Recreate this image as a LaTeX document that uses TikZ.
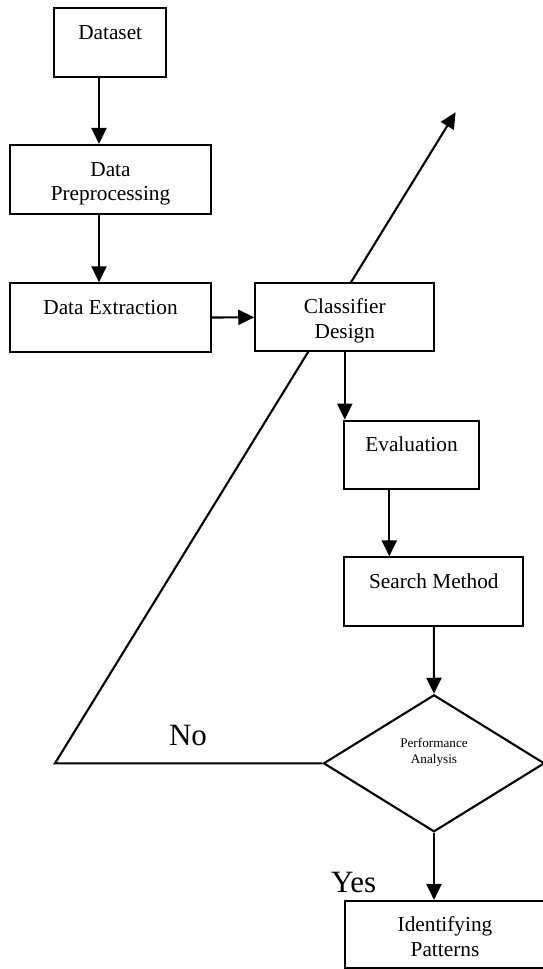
\documentclass[tikz,border=0pt]{standalone}
\usepackage{fontspec}
\setmainfont{Liberation Serif}
\usetikzlibrary{shapes.geometric,arrows.meta,backgrounds}
\newcommand{\topfix}[1]{\rule{0pt}{#1}}
\begin{document}
\begin{tikzpicture}[x=1pt,y=-1pt,
  box/.style={draw,line width=2.1pt,fill=white,rectangle,inner sep=0pt,align=center,
    font=\fontsize{21.3}{24.5}\selectfont},
  decision/.style={draw,line width=2.1pt,fill=white,diamond,inner sep=0pt},
  arr/.style={line width=2.1pt,-{Triangle[length=16pt,width=15pt]}},
  lbl/.style={font=\fontsize{31}{36}\selectfont},
  small/.style={font=\fontsize{13.2}{16.6}\selectfont,align=center}]
\useasboundingbox (0,0) rectangle (542,969);
\node[box,minimum width=111.7pt,minimum height=68.4pt] (ds) at (110.2,42.5) {\topfix{18.5pt}Dataset\\[0pt]\mbox{}};
\node[box,minimum width=201pt,minimum height=69pt] (pre) at (110.5,179.5) {\topfix{23pt}Data\\Preprocessing};
\node[box,minimum width=201pt,minimum height=68.4pt] (ext) at (110.5,317.5) {\topfix{18.5pt}Data Extraction\\[0pt]\mbox{}};
\node[box,minimum width=179pt,minimum height=68pt] (cls) at (344.8,317.3) {\topfix{22pt}Classifier\\Design};
\node[box,minimum width=134.4pt,minimum height=68.3pt] (ev) at (411.5,454.9) {\topfix{18.5pt}Evaluation\\[0pt]\mbox{}};
\node[box,minimum width=179pt,minimum height=68.7pt] (sm) at (433.8,591.7) {\topfix{18.5pt}Search Method\\[0pt]\mbox{}};
\node[decision,minimum width=221pt,minimum height=137pt,
  label={[small,yshift=11pt]center:Performance\\Analysis}] (pa) at (434,763.3) {};
\node[box,minimum width=200.8pt,minimum height=67pt] (ip) at (445,934.5) {\topfix{19.5pt}Identifying\\Patterns};
\coordinate (corner) at (55,763.3);
\coordinate (tip) at (455.6,112.3);
\begin{pgfonlayer}{background}
\draw[arr] (pa.west) -- (corner) -- (tip);
\end{pgfonlayer}
\draw[arr] ([xshift=-11.2pt]ds.south) -- ([xshift=-11.2pt]ds.south |- pre.north);
\draw[arr] ([xshift=-11.5pt]pre.south) -- ([xshift=-11.5pt]pre.south |- ext.north);
\draw[arr] (ext.east) -- (cls.west);
\draw[arr] (cls.south) -- (cls.south |- ev.north);
\draw[arr] ([xshift=-22.2pt]ev.south) -- ([xshift=-22.2pt]ev.south |- sm.north);
\draw[arr] (sm.south) -- (pa.north);
\draw[arr] (pa.south) -- (pa.south |- ip.north);
\node[lbl] (no) at (188,735) {No};
\node[lbl] (yes) at (353.6,882) {Yes};
\end{tikzpicture}
\end{document}
